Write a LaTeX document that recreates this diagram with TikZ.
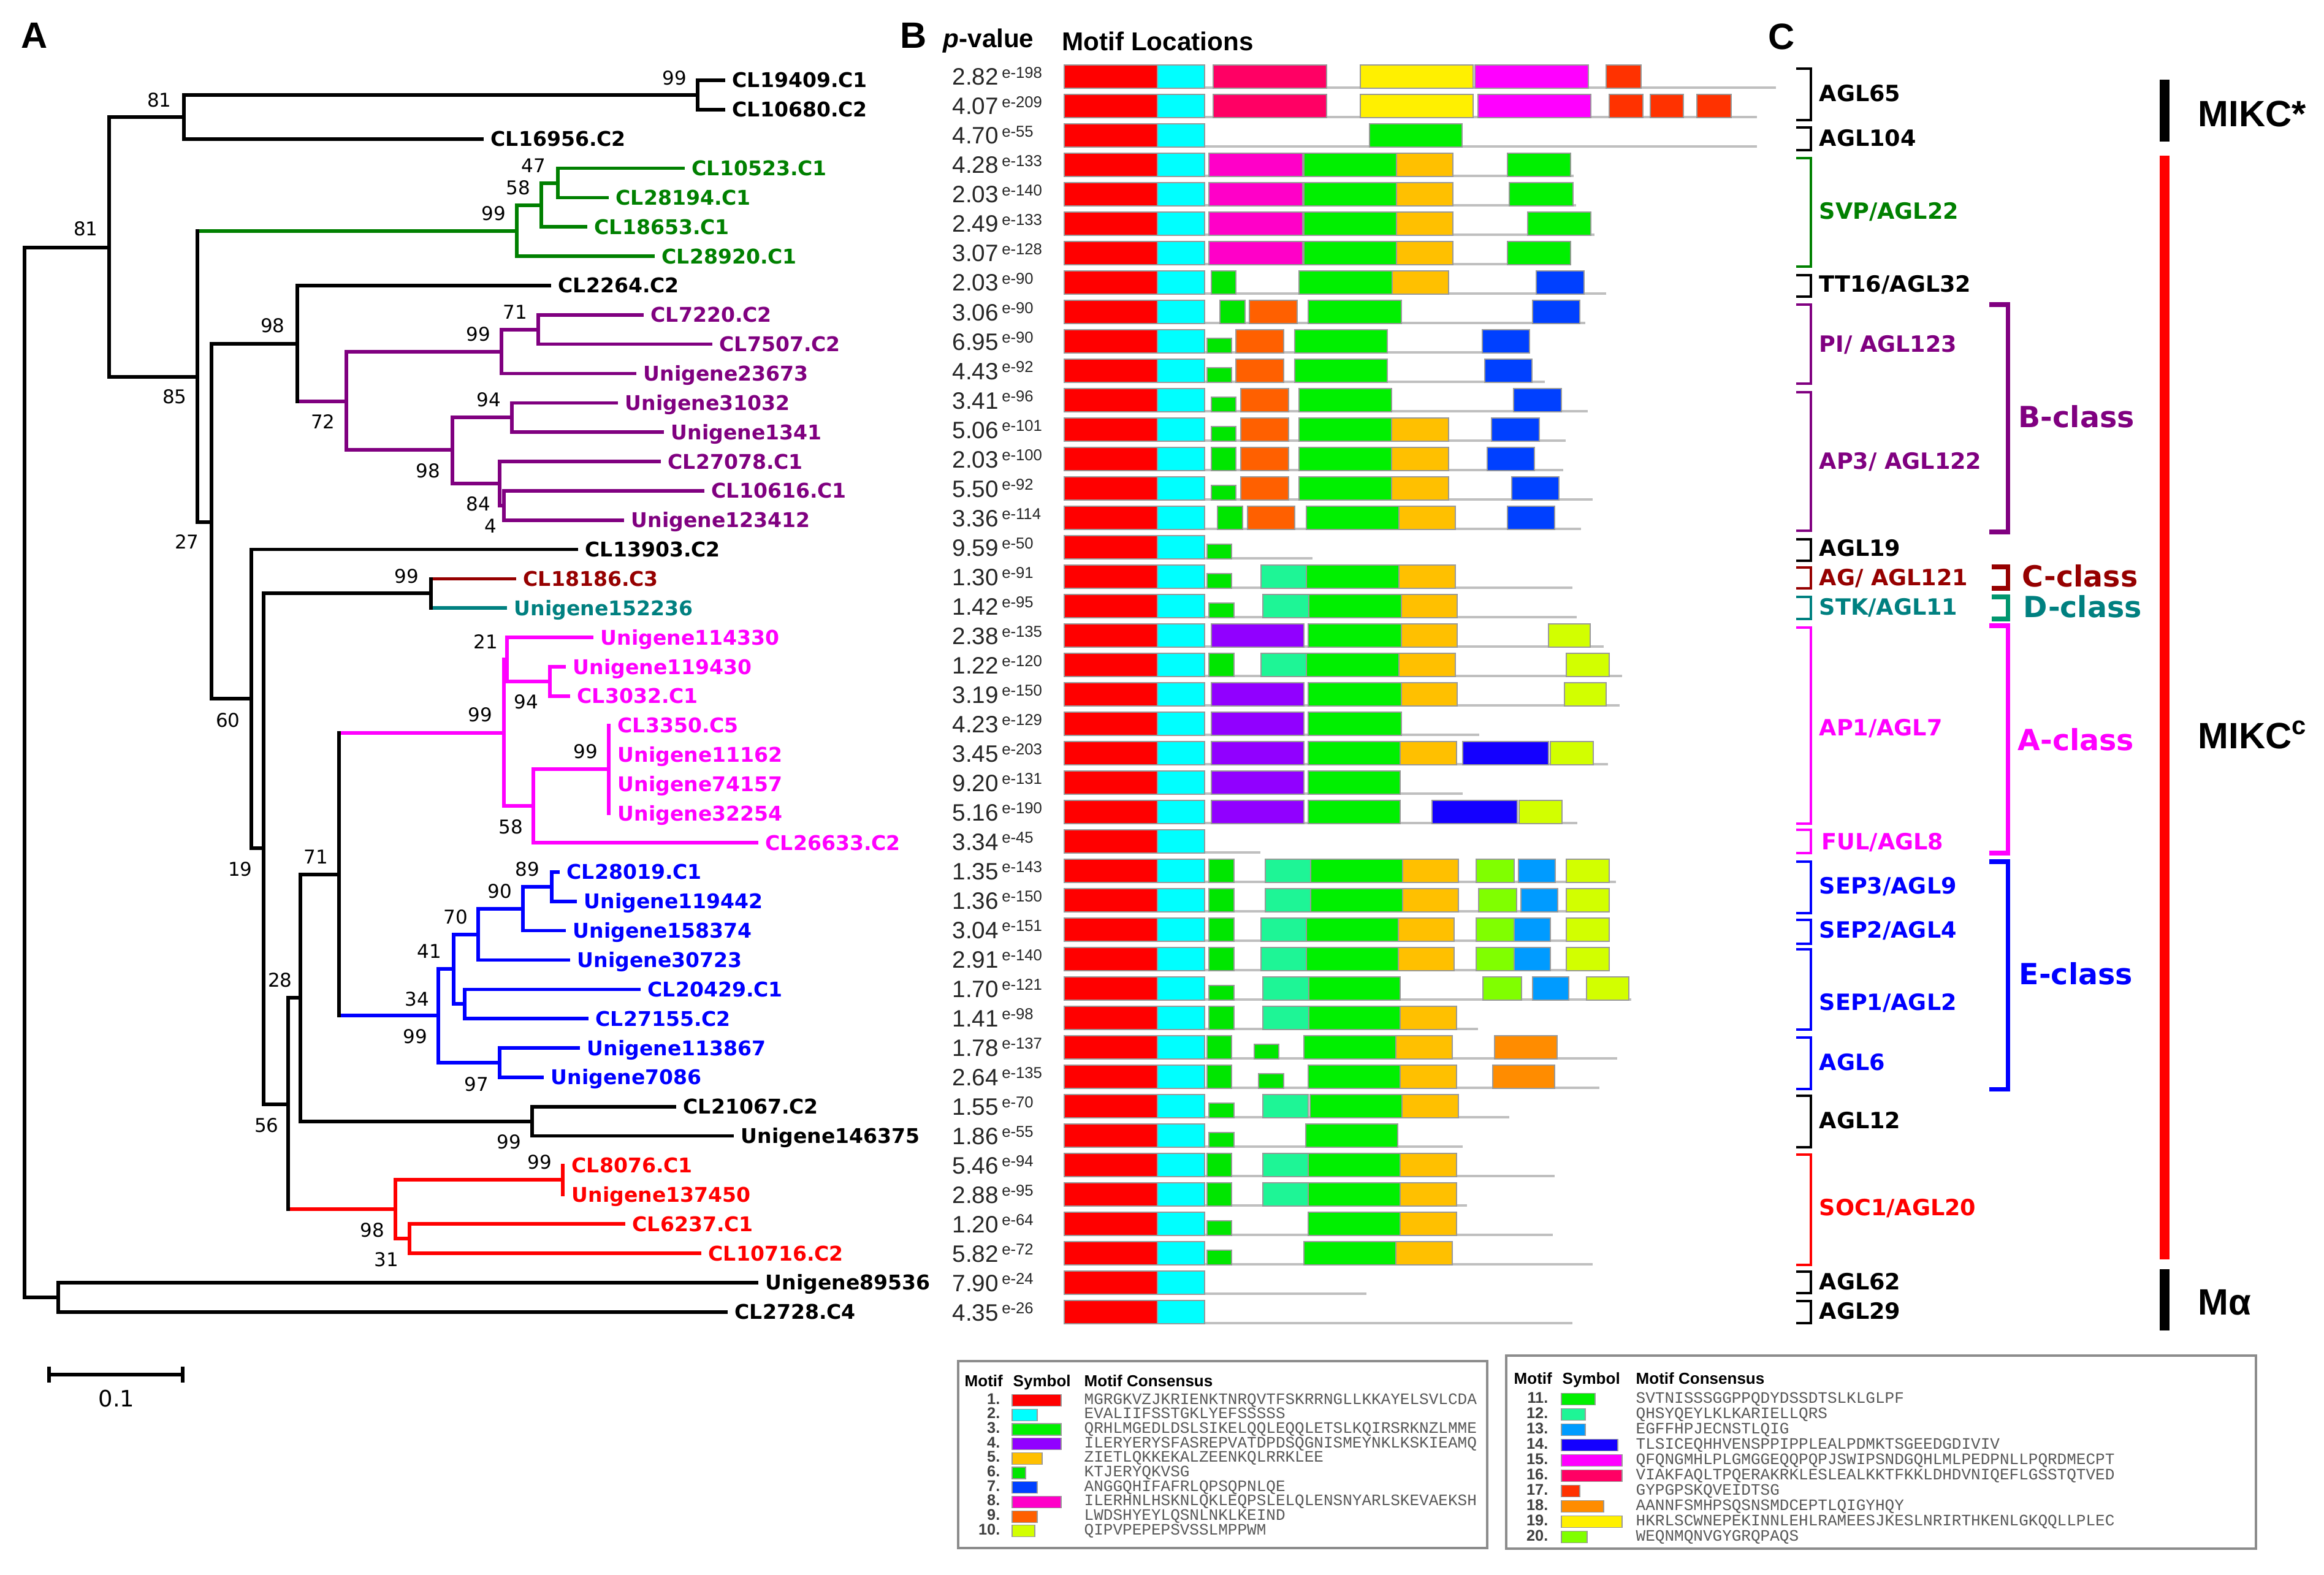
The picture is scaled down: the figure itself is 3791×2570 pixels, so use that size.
\documentclass[tikz,border=0pt]{standalone}
\usepackage{fontspec}
\setmainfont{Liberation Sans}
\newfontfamily\dvs{DejaVu Sans}
\newfontfamily\lmono{Liberation Mono}

\definecolor{m1}{RGB}{255,0,0}
\definecolor{m2}{RGB}{0,255,255}
\definecolor{m3}{RGB}{0,240,0}
\definecolor{m4}{RGB}{145,0,255}
\definecolor{m5}{RGB}{255,192,0}
\definecolor{m6}{RGB}{0,230,0}
\definecolor{m7}{RGB}{0,64,255}
\definecolor{m8}{RGB}{255,0,200}
\definecolor{m9}{RGB}{255,96,0}
\definecolor{m10}{RGB}{210,255,0}
\definecolor{m11}{RGB}{0,240,0}
\definecolor{m12}{RGB}{30,245,150}
\definecolor{m13}{RGB}{0,155,255}
\definecolor{m14}{RGB}{20,0,255}
\definecolor{m15}{RGB}{255,0,255}
\definecolor{m16}{RGB}{255,0,100}
\definecolor{m17}{RGB}{255,50,0}
\definecolor{m18}{RGB}{255,140,0}
\definecolor{m19}{RGB}{255,240,0}
\definecolor{m20}{RGB}{128,255,0}

\definecolor{cgreen}{RGB}{0,128,0}
\definecolor{cpurple}{RGB}{128,0,128}
\definecolor{cdred}{RGB}{150,0,0}
\definecolor{cteal}{RGB}{0,128,128}
\definecolor{cdteal}{RGB}{0,150,110}
\definecolor{cmag}{RGB}{255,0,255}
\definecolor{cblue}{RGB}{0,0,255}
\definecolor{cred}{RGB}{255,0,0}

\tikzset{
  tree/.style={line width=1.6pt, line cap=rect},
  leaf/.style={anchor=base west, inner sep=0pt, font=\dvs\bfseries\fontsize{9.4}{10}\selectfont},
  boot/.style={inner sep=0pt, font=\dvs\fontsize{8.8}{9}\selectfont},
  pval/.style={anchor=base west, inner sep=0pt, font=\fontsize{11}{12}\selectfont, text=black!85},
  hdr/.style={anchor=west, inner sep=0pt, font=\bfseries\fontsize{12}{13}\selectfont},
  panel/.style={inner sep=0pt, font=\bfseries\fontsize{17}{18}\selectfont},
  clab/.style={anchor=base west, inner sep=0pt, font=\dvs\bfseries\fontsize{10.4}{11}\selectfont},
  glab/.style={anchor=west, inner sep=0pt, font=\dvs\bfseries\fontsize{13.5}{14}\selectfont},
  mlab/.style={anchor=west, inner sep=0pt, font=\bfseries\fontsize{17}{18}\selectfont},
  lhdr/.style={anchor=base west, inner sep=0pt, font=\bfseries\fontsize{7.4}{8}\selectfont},
  lnum/.style={anchor=base east, inner sep=0pt, font=\bfseries\fontsize{7.2}{8}\selectfont, text=black!75},
  lseq/.style={anchor=base west, inner sep=0pt, font=\lmono\fontsize{7.4}{8}\selectfont, text=black!65},
  lsym/.style={draw=black!40, line width=0.35pt},
}

\newcommand{\mot}[4]{\filldraw[fill=#4, draw=black!40, line width=0.35pt] (#2,{125+48*(#1-1)-19}) rectangle (#3,{125+48*(#1-1)+19});}
\newcommand{\mots}[4]{\filldraw[fill=#4, draw=black!40, line width=0.35pt] (#2,{125+48*(#1-1)-5}) rectangle (#3,{125+48*(#1-1)+19});}
\newcommand{\mrowbase}[2]{\draw[draw=black!25, line width=1pt] (1736,{125+48*(#1-1)+18}) -- (#2,{125+48*(#1-1)+18}); \mot{#1}{1736}{1888}{m1}\mot{#1}{1888}{1965}{m2}}
\newcommand{\cbrk}[3]{\draw[#3, line width=1.3pt] (2930,#1) -| (2954,#2) -- (2930,#2);}
\newcommand{\gbrkt}[4]{\draw[#4, line width=2pt] (#3,#1) -| (3275,#2) -- (#3,#2);}

\begin{document}
\begin{tikzpicture}[x=0.01cm, y=-0.01cm]
\useasboundingbox (0,0) rectangle (3791,2570);
\fill[white] (0,0) rectangle (3791,2570);

% panel letters
\node[panel] (pA) at (56,58) {A};
\node[panel] (pB) at (1490,58) {B};
\node[panel] (pC) at (2906,60) {C};

% ---------------- TREE ----------------
\foreach \n/\x/\y in {root/40/1260, n1/178/404, n2/300/191, n2a/1138/155, n3/322/615,
  g1/843/377, g2/883/335, g3/910/299, n4/345/852, n5/485/561, p1/565/655, p2/818/574,
  p2a/878/538, p3/738/734, p4/835/681, p5/815/789, p6/822/825, n6/410/1140, n7/430/1384,
  cd/703/968, n8/470/1802, n9/490/1628, n10/553/1427, a1/822/1196, a2/827/1076,
  a4/897/1112, a3/870/1315, a5/993/1255, e1/715/1657, e2/740/1581, e3/780/1525,
  e4/853/1483, e4a/900/1447, e5/758/1638, e6/815/1734, k/868/1830, r1/645/1973,
  r2/918/1925, r3/668/2021, ma/95/2117}
  \coordinate (\n) at (\x,\y);

\foreach \i/\tx/\nm/\kol/\pp in {
  1/1180/CL19409.C1/black/n2a, 2/1180/CL10680.C2/black/n2a, 3/786/CL16956.C2/black/n2,
  4/1114/CL10523.C1/cgreen/g3, 5/990/CL28194.C1/cgreen/g3, 6/955/CL18653.C1/cgreen/g2,
  7/1065/CL28920.C1/cgreen/g1, 8/896/CL2264.C2/black/n5, 9/1047/CL7220.C2/cpurple/p2a,
  10/1159/CL7507.C2/cpurple/p2a, 11/1035/Unigene23673/cpurple/p2, 12/1005/Unigene31032/cpurple/p4,
  13/1080/Unigene1341/cpurple/p4, 14/1075/CL27078.C1/cpurple/p5, 15/1146/CL10616.C1/cpurple/p6,
  16/1015/Unigene123412/cpurple/p6, 17/940/CL13903.C2/black/n6, 18/839/CL18186.C3/cdred/cd,
  19/824/Unigene152236/cteal/cd, 20/965/Unigene114330/cmag/a2, 21/920/Unigene119430/cmag/a4,
  22/927/CL3032.C1/cmag/a4, 23/993/CL3350.C5/cmag/a5, 24/993/Unigene11162/cmag/a5,
  25/993/Unigene74157/cmag/a5, 26/993/Unigene32254/cmag/a5, 27/1234/CL26633.C2/cmag/a3,
  28/910/CL28019.C1/cblue/e4a, 29/938/Unigene119442/cblue/e4a, 30/920/Unigene158374/cblue/e4,
  31/927/Unigene30723/cblue/e3, 32/1042/CL20429.C1/cblue/e5, 33/957/CL27155.C2/cblue/e5,
  34/943/Unigene113867/cblue/e6, 35/884/Unigene7086/cblue/e6, 36/1100/CL21067.C2/black/k,
  37/1194/Unigene146375/black/k, 38/918/CL8076.C1/cred/r2, 39/918/Unigene137450/cred/r2,
  40/1017/CL6237.C1/cred/r3, 41/1141/CL10716.C2/cred/r3, 42/1234/Unigene89536/black/ma,
  43/1184/CL2728.C4/black/ma}
{
  \coordinate (t\i) at (\tx,{131+47.85*(\i-1)});
  \node[leaf, text=\kol] (L\i) at ({\tx+14},{131+47.85*(\i-1)+12}) {\nm};
  \draw[tree,\kol] (\pp |- t\i) -- (t\i);
}

% internal edges (horizontal)
\foreach \pp/\cc/\kol in {root/n1/black, root/ma/black, n1/n2/black, n1/n3/black, n2/n2a/black,
  n3/g1/cgreen, n3/n4/black, g1/g2/cgreen, g2/g3/cgreen, n4/n5/black, n4/n6/black,
  n5/p1/cpurple, p1/p2/cpurple, p1/p3/cpurple, p2/p2a/cpurple, p3/p4/cpurple, p3/p5/cpurple,
  p5/p6/cpurple, n6/n7/black, n7/cd/black, n7/n8/black, n8/n9/black, n8/r1/cred,
  n9/n10/black, n9/k/black, n10/a1/cmag, n10/e1/cblue, a1/a2/cmag, a1/a3/cmag, a2/a4/cmag,
  a3/a5/cmag, e1/e2/cblue, e1/e6/cblue, e2/e3/cblue, e2/e5/cblue, e3/e4/cblue, e4/e4a/cblue,
  r1/r2/cred, r1/r3/cred}
  \draw[tree,\kol] (\pp |- \cc) -- (\cc);

% verticals
\foreach \n/\aa/\bb/\kol in {root/n1/ma/black, n1/n2/n3/black, n2/n2a/t3/black, n2a/t1/t2/black,
  n3/g1/n4/black, g1/g2/t7/cgreen, g2/g3/t6/cgreen, g3/t4/t5/cgreen, n4/n5/n6/black,
  n5/t8/p1/black, p1/p2/p3/cpurple, p2/p2a/t11/cpurple, p2a/t9/t10/cpurple, p3/p4/p5/cpurple,
  p4/t12/t13/cpurple, p5/t14/p6/cpurple, p6/t15/t16/cpurple, n6/t17/n7/black, n7/cd/n8/black,
  cd/t18/t19/black, n8/n9/r1/black, n9/n10/k/black, n10/a1/e1/black, a1/a2/a3/cmag,
  a2/t20/a4/cmag, a4/t21/t22/cmag, a3/a5/t27/cmag, a5/t23/t26/cmag, e1/e2/e6/cblue,
  e2/e3/e5/cblue, e3/e4/t31/cblue, e4/e4a/t30/cblue, e4a/t28/t29/cblue, e5/t32/t33/cblue,
  e6/t34/t35/cblue, k/t36/t37/black, r1/r2/r3/cred, r2/t38/t39/cred, r3/t40/t41/cred,
  ma/t42/t43/black}
  \draw[tree,\kol] (\n |- \aa) -- (\n |- \bb);

% bootstrap values
\foreach \x/\y/\v [count=\j] in {1100/127/99, 260/163/81, 140/373/81, 870/270/47, 845/306/58,
  805/348/99, 445/531/98, 840/509/71, 780/545/99, 285/647/85, 797/652/94, 527/688/72,
  698/768/98, 780/822/84, 800/858/4, 305/884/27, 663/940/99, 792/1047/21, 858/1145/94,
  783/1166/99, 372/1175/60, 955/1226/99, 833/1349/58, 515/1398/71, 392/1418/19, 860/1418/89,
  815/1454/90, 743/1496/70, 700/1552/41, 457/1599/28, 680/1630/34, 677/1691/99, 777/1769/97,
  435/1836/56, 830/1863/99, 880/1896/99, 607/2007/98, 630/2055/31}
  \node[boot] (bs\j) at (\x,\y) {\v};

% scale bar
\coordinate (sb1) at (80,2243);
\coordinate (sb2) at (298,2243);
\draw[line width=1.6pt] (sb1) -- (sb2);
\draw[line width=1.6pt] ([yshift=0.13cm]sb1) -- ([yshift=-0.13cm]sb1);
\draw[line width=1.6pt] ([yshift=0.13cm]sb2) -- ([yshift=-0.13cm]sb2);
\node[inner sep=0pt, font=\dvs\fontsize{10.5}{11}\selectfont] (sbl) at (190,2282) {0.1};

% ---------------- B: motifs ----------------
\node[hdr] (hp) at (1538,67) {\textit{p}-value};
\node[hdr] (hm) at (1732,67) {Motif Locations};

\foreach \r/\a/\b in {1/2.82/198, 2/4.07/209, 3/4.70/55, 4/4.28/133, 5/2.03/140, 6/2.49/133,
  7/3.07/128, 8/2.03/90, 9/3.06/90, 10/6.95/90, 11/4.43/92, 12/3.41/96, 13/5.06/101,
  14/2.03/100, 15/5.50/92, 16/3.36/114, 17/9.59/50, 18/1.30/91, 19/1.42/95, 20/2.38/135,
  21/1.22/120, 22/3.19/150, 23/4.23/129, 24/3.45/203, 25/9.20/131, 26/5.16/190, 27/3.34/45,
  28/1.35/143, 29/1.36/150, 30/3.04/151, 31/2.91/140, 32/1.70/121, 33/1.41/98, 34/1.78/137,
  35/2.64/135, 36/1.55/70, 37/1.86/55, 38/5.46/94, 39/2.88/95, 40/1.20/64, 41/5.82/72,
  42/7.90/24, 43/4.35/26}
  \node[pval] (pv\r) at (1553,{125+48*(\r-1)+14}) {\a\hspace{1.5pt}\raisebox{3.3pt}{\fontsize{7.3}{7.3}\selectfont e-\b}};

\mrowbase{1}{2897}\mot{1}{1979}{2164}{m16}\mot{1}{2219}{2403}{m19}\mot{1}{2406}{2591}{m15}\mot{1}{2620}{2677}{m17}
\mrowbase{2}{2866}\mot{2}{1979}{2164}{m16}\mot{2}{2219}{2403}{m19}\mot{2}{2411}{2595}{m15}\mot{2}{2625}{2680}{m17}\mot{2}{2692}{2746}{m17}\mot{2}{2768}{2824}{m17}
\mrowbase{3}{2866}\mot{3}{2234}{2385}{m3}
\mrowbase{4}{2567}\mot{4}{1972}{2125}{m8}\mot{4}{2127}{2278}{m3}\mot{4}{2278}{2370}{m5}\mot{4}{2459}{2562}{m11}
\mrowbase{5}{2571}\mot{5}{1972}{2125}{m8}\mot{5}{2127}{2278}{m3}\mot{5}{2278}{2370}{m5}\mot{5}{2462}{2566}{m11}
\mrowbase{6}{2601}\mot{6}{1972}{2125}{m8}\mot{6}{2127}{2278}{m3}\mot{6}{2278}{2370}{m5}\mot{6}{2492}{2595}{m11}
\mrowbase{7}{2562}\mot{7}{1972}{2125}{m8}\mot{7}{2127}{2278}{m3}\mot{7}{2278}{2370}{m5}\mot{7}{2459}{2562}{m11}
\mrowbase{8}{2620}\mot{8}{1976}{2016}{m6}\mot{8}{2119}{2271}{m3}\mot{8}{2271}{2363}{m5}\mot{8}{2506}{2584}{m7}
\mrowbase{9}{2586}\mot{9}{1990}{2031}{m6}\mot{9}{2038}{2116}{m9}\mot{9}{2134}{2286}{m3}\mot{9}{2500}{2577}{m7}
\mrowbase{10}{2495}\mots{10}{1969}{2009}{m6}\mot{10}{2016}{2094}{m9}\mot{10}{2112}{2263}{m3}\mot{10}{2418}{2495}{m7}
\mrowbase{11}{2520}\mots{11}{1969}{2009}{m6}\mot{11}{2016}{2094}{m9}\mot{11}{2112}{2263}{m3}\mot{11}{2422}{2499}{m7}
\mrowbase{12}{2590}\mots{12}{1976}{2016}{m6}\mot{12}{2024}{2102}{m9}\mot{12}{2119}{2270}{m3}\mot{12}{2469}{2547}{m7}
\mrowbase{13}{2554}\mots{13}{1976}{2016}{m6}\mot{13}{2024}{2102}{m9}\mot{13}{2119}{2270}{m3}\mot{13}{2270}{2363}{m5}\mot{13}{2433}{2511}{m7}
\mrowbase{14}{2550}\mot{14}{1976}{2016}{m6}\mot{14}{2024}{2102}{m9}\mot{14}{2119}{2270}{m3}\mot{14}{2270}{2363}{m5}\mot{14}{2426}{2503}{m7}
\mrowbase{15}{2598}\mots{15}{1976}{2016}{m6}\mot{15}{2024}{2102}{m9}\mot{15}{2119}{2270}{m3}\mot{15}{2270}{2363}{m5}\mot{15}{2466}{2543}{m7}
\mrowbase{16}{2579}\mot{16}{1986}{2027}{m6}\mot{16}{2035}{2112}{m9}\mot{16}{2131}{2282}{m3}\mot{16}{2282}{2374}{m5}\mot{16}{2459}{2536}{m7}
\mrowbase{17}{2141}\mots{17}{1969}{2009}{m6}
\mrowbase{18}{2565}\mots{18}{1969}{2009}{m6}\mot{18}{2057}{2131}{m12}\mot{18}{2131}{2282}{m3}\mot{18}{2282}{2374}{m5}
\mrowbase{19}{2572}\mots{19}{1972}{2013}{m6}\mot{19}{2060}{2135}{m12}\mot{19}{2135}{2286}{m3}\mot{19}{2286}{2377}{m5}
\mrowbase{20}{2616}\mot{20}{1976}{2127}{m4}\mot{20}{2134}{2286}{m3}\mot{20}{2286}{2377}{m5}\mot{20}{2526}{2594}{m10}
\mrowbase{21}{2646}\mot{21}{1972}{2013}{m6}\mot{21}{2057}{2131}{m12}\mot{21}{2131}{2282}{m3}\mot{21}{2282}{2374}{m5}\mot{21}{2555}{2625}{m10}
\mrowbase{22}{2642}\mot{22}{1976}{2127}{m4}\mot{22}{2134}{2286}{m3}\mot{22}{2286}{2377}{m5}\mot{22}{2552}{2620}{m10}
\mrowbase{23}{2413}\mot{23}{1976}{2127}{m4}\mot{23}{2134}{2286}{m3}
\mrowbase{24}{2623}\mot{24}{1976}{2127}{m4}\mot{24}{2134}{2284}{m3}\mot{24}{2284}{2376}{m5}\mot{24}{2386}{2526}{m14}\mot{24}{2529}{2599}{m10}
\mrowbase{25}{2386}\mot{25}{1976}{2127}{m4}\mot{25}{2134}{2284}{m3}
\mrowbase{26}{2573}\mot{26}{1976}{2127}{m4}\mot{26}{2134}{2284}{m3}\mot{26}{2336}{2475}{m14}\mot{26}{2478}{2548}{m10}
\mrowbase{27}{2056}
\mrowbase{28}{2636}\mot{28}{1972}{2013}{m6}\mot{28}{2064}{2138}{m12}\mot{28}{2138}{2288}{m3}\mot{28}{2288}{2379}{m5}\mot{28}{2408}{2470}{m20}\mot{28}{2477}{2537}{m13}\mot{28}{2555}{2625}{m10}
\mrowbase{29}{2625}\mot{29}{1972}{2013}{m6}\mot{29}{2064}{2138}{m12}\mot{29}{2138}{2288}{m3}\mot{29}{2288}{2379}{m5}\mot{29}{2412}{2474}{m20}\mot{29}{2481}{2541}{m13}\mot{29}{2555}{2625}{m10}
\mrowbase{30}{2625}\mot{30}{1972}{2013}{m6}\mot{30}{2057}{2131}{m12}\mot{30}{2131}{2281}{m3}\mot{30}{2281}{2372}{m5}\mot{30}{2408}{2470}{m20}\mot{30}{2470}{2529}{m13}\mot{30}{2555}{2625}{m10}
\mrowbase{31}{2625}\mot{31}{1972}{2013}{m6}\mot{31}{2057}{2131}{m12}\mot{31}{2131}{2281}{m3}\mot{31}{2281}{2372}{m5}\mot{31}{2408}{2470}{m20}\mot{31}{2470}{2529}{m13}\mot{31}{2555}{2625}{m10}
\mrowbase{32}{2661}\mots{32}{1972}{2013}{m6}\mot{32}{2060}{2135}{m12}\mot{32}{2135}{2284}{m3}\mot{32}{2419}{2482}{m20}\mot{32}{2500}{2559}{m13}\mot{32}{2588}{2657}{m10}
\mrowbase{33}{2411}\mot{33}{1972}{2013}{m6}\mot{33}{2060}{2135}{m12}\mot{33}{2135}{2284}{m3}\mot{33}{2284}{2376}{m5}
\mrowbase{34}{2638}\mot{34}{1969}{2009}{m6}\mots{34}{2046}{2086}{m6}\mot{34}{2127}{2277}{m3}\mot{34}{2277}{2369}{m5}\mot{34}{2438}{2540}{m18}
\mrowbase{35}{2609}\mot{35}{1969}{2009}{m6}\mots{35}{2053}{2094}{m6}\mot{35}{2134}{2284}{m3}\mot{35}{2284}{2376}{m5}\mot{35}{2435}{2536}{m18}
\mrowbase{36}{2462}\mots{36}{1972}{2013}{m6}\mot{36}{2060}{2134}{m12}\mot{36}{2137}{2287}{m3}\mot{36}{2287}{2379}{m5}
\mrowbase{37}{2386}\mots{37}{1972}{2013}{m6}\mot{37}{2130}{2280}{m3}
\mrowbase{38}{2536}\mot{38}{1969}{2009}{m6}\mot{38}{2060}{2134}{m12}\mot{38}{2134}{2284}{m3}\mot{38}{2284}{2376}{m5}
\mrowbase{39}{2393}\mot{39}{1969}{2009}{m6}\mot{39}{2060}{2134}{m12}\mot{39}{2134}{2284}{m3}\mot{39}{2284}{2376}{m5}
\mrowbase{40}{2533}\mots{40}{1969}{2009}{m6}\mot{40}{2134}{2284}{m3}\mot{40}{2284}{2376}{m5}
\mrowbase{41}{2598}\mots{41}{1969}{2009}{m6}\mot{41}{2127}{2277}{m3}\mot{41}{2277}{2369}{m5}
\mrowbase{42}{2229}
\mrowbase{43}{2565}

% ---------------- legend ----------------
\draw[black!45, line width=1.1pt] (1563,2221) rectangle (2426,2526);
\node[lhdr] (lh1a) at (1573,2262) {Motif};
\node[lhdr] (lh1b) at (1652,2262) {Symbol};
\node[lhdr] (lh1c) at (1768,2262) {Motif Consensus};
\foreach \k/\w/\sq in {1/80/MGRGKVZJKRIENKTNRQVTFSKRRNGLLKKAYELSVLCDA, 2/41/EVALIIFSSTGKLYEFSSSSS,
  3/80/QRHLMGEDLDSLSIKELQQLEQQLETSLKQIRSRKNZLMME, 4/80/ILERYERYSFASREPVATDPDSQGNISMEYNKLKSKIEAMQ,
  5/49/ZIETLQKKEKALZEENKQLRRKLEE, 6/22/KTJERYQKVSG, 7/41/ANGGQHIFAFRLQPSQPNLQE,
  8/80/ILERHNLHSKNLQKLEQPSLELQLENSNYARLSKEVAEKSH, 9/41/LWDSHYEYLQSNLNKLKEIND, 10/37/QIPVPEPEPSVSSLMPPWM}
{
  \node[lnum] (ln\k) at (1632,{2285+23.7*(\k-1)+6}) {\k.};
  \filldraw[lsym, fill=m\k] (1651,{2285+23.7*(\k-1)-9.5}) rectangle ({1651+\w},{2285+23.7*(\k-1)+9.5});
  \node[lseq] (ls\k) at (1768,{2285+23.7*(\k-1)+6}) {\sq};
}
\draw[black!45, line width=1.1pt] (2457,2212) rectangle (3680,2527);
\node[lhdr] (lh2a) at (2469,2258) {Motif};
\node[lhdr] (lh2b) at (2548,2258) {Symbol};
\node[lhdr] (lh2c) at (2668,2258) {Motif Consensus};
\foreach \k/\w/\sq in {11/55/SVTNISSSGGPPQDYDSSDTSLKLGLPF, 12/39/QHSYQEYLKLKARIELLQRS,
  13/39/EGFFHPJECNSTLQIG, 14/92/TLSICEQHHVENSPPIPPLEALPDMKTSGEEDGDIVIV,
  15/99/QFQNGMHLPLGMGGEQQPQPJSWIPSNDGQHLMLPEDPNLLPQRDMECPT,
  16/99/VIAKFAQLTPQERAKRKLESLEALKKTFKKLDHDVNIQEFLGSSTQTVED, 17/30/GYPGPSKQVEIDTSG,
  18/69/AANNFSMHPSQSNSMDCEPTLQIGYHQY, 19/99/HKRLSCWNEPEKINNLEHLRAMEESJKESLNRIRTHKENLGKQQLLPLEC,
  20/42/WEQNMQNVGYGRQPAQS}
{
  \node[lnum] (ln\k) at (2526,{2283+25*(\k-11)+6}) {\k.};
  \filldraw[lsym, fill=m\k] (2547,{2283+25*(\k-11)-9.5}) rectangle ({2547+\w},{2283+25*(\k-11)+9.5});
  \node[lseq] (ls\k) at (2668,{2283+25*(\k-11)+6}) {\sq};
}

% ---------------- C: classes ----------------
\cbrk{112}{196}{black}
\cbrk{208}{245}{black}
\cbrk{258}{435}{cgreen}
\cbrk{449}{484}{black}
\cbrk{497}{626}{cpurple}
\cbrk{640}{866}{cpurple}
\cbrk{880}{915}{black}
\cbrk{926}{960}{cdred}
\cbrk{974}{1010}{cteal}
\cbrk{1024}{1344}{cmag}
\cbrk{1354}{1392}{cmag}
\cbrk{1406}{1490}{cblue}
\cbrk{1501}{1540}{cblue}
\cbrk{1549}{1680}{cblue}
\cbrk{1693}{1777}{cblue}
\cbrk{1788}{1872}{black}
\cbrk{1884}{2064}{cred}
\cbrk{2075}{2110}{black}
\cbrk{2123}{2159}{black}

\node[clab] (c1) at (2967,166) {AGL65};
\node[clab] (c2) at (2967,239) {AGL104};
\node[clab, text=cgreen] (c3) at (2967,358) {SVP/AGL22};
\node[clab] (c4) at (2967,477) {TT16/AGL32};
\node[clab, text=cpurple] (c5) at (2967,574) {PI/ AGL123};
\node[clab, text=cpurple] (c6) at (2967,765) {AP3/ AGL122};
\node[clab] (c7) at (2967,907) {AGL19};
\node[clab, text=cdred] (c8) at (2967,955) {AG/ AGL121};
\node[clab, text=cteal] (c9) at (2967,1003) {STK/AGL11};
\node[clab, text=cmag] (c10) at (2967,1200) {AP1/AGL7};
\node[clab, text=cmag] (c11) at (2971,1386) {FUL/AGL8};
\node[clab, text=cblue] (c12) at (2967,1458) {SEP3/AGL9};
\node[clab, text=cblue] (c13) at (2967,1530) {SEP2/AGL4};
\node[clab, text=cblue] (c14) at (2967,1648) {SEP1/AGL2};
\node[clab, text=cblue] (c15) at (2967,1746) {AGL6};
\node[clab] (c16) at (2967,1841) {AGL12};
\node[clab, text=cred] (c17) at (2967,1983) {SOC1/AGL20};
\node[clab] (c18) at (2967,2104) {AGL62};
\node[clab] (c19) at (2967,2152) {AGL29};

\gbrkt{497}{868}{3245}{cpurple}
\gbrkt{925}{960}{3249}{cdred}
\gbrkt{974}{1010}{3249}{cdteal}
\gbrkt{1021}{1392}{3245}{cmag}
\gbrkt{1406}{1777}{3245}{cblue}
\node[glab, text=cpurple] (gB) at (3292,680) {B-class};
\node[glab, text=cdred] (gC) at (3298,940) {C-class};
\node[glab, text=cteal] (gD) at (3300,990) {D-class};
\node[glab, text=cmag] (gA) at (3291,1207) {A-class};
\node[glab, text=cblue] (gE) at (3293,1589) {E-class};

\draw[black, line width=4.8pt] (3531,130) -- (3531,231);
\draw[cred, line width=4.8pt] (3531,254) -- (3531,2055);
\draw[black, line width=4.8pt] (3531,2071) -- (3531,2171);
\node[mlab] (mk1) at (3585,186) {MIKC*};
\node[mlab] (mk2) at (3585,1199) {MIKC\textsuperscript{c}};
\node[mlab] (mk3) at (3585,2125) {Mα};
\end{tikzpicture}
\end{document}
